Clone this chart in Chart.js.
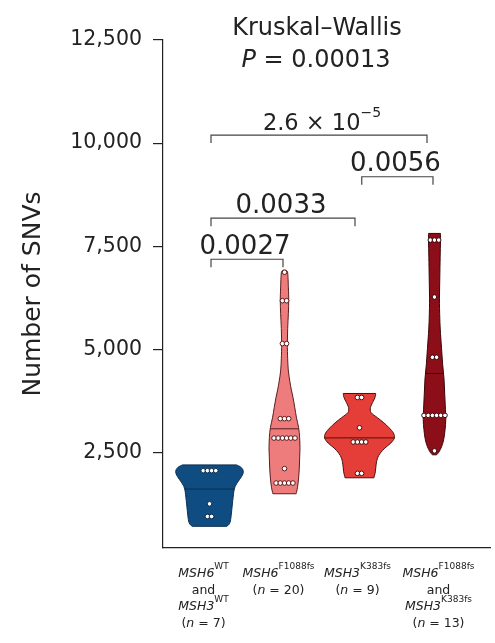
<!DOCTYPE html>
<html>
<head>
<meta charset="utf-8">
<script src="https://cdn.jsdelivr.net/npm/chart.js@4.4.1/dist/chart.umd.min.js"></script>
<style>
  html, body { margin: 0; padding: 0; background: #fff; }
  #wrap { width: 495px; height: 643px; }
</style>
</head>
<body>
<div id="wrap"><canvas id="snvChart" width="495" height="643"></canvas></div>
<script>
// ---- values ----
const groupIds = [0, 1, 2, 3];
const groupCounts = [7, 20, 9, 13];

// SNVs per sample, one array per group
const snvWT = [2060, 2060, 2060, 2060, 1255, 950, 950];
const snvMSH6 = [6870, 6180, 6180, 5140, 5140, 3320, 3320, 3320,
  2850, 2850, 2850, 2850, 2850, 2850, 2110, 1760, 1760, 1760, 1760, 1760];
const snvMSH3 = [3835, 3835, 3100, 2755, 2755, 2755, 2755, 1995, 1995];
const snvDouble = [7650, 7650, 7650, 6270, 4810, 4810,
  3400, 3400, 3400, 3400, 3400, 3400, 2540];

// horizontal line drawn across each violin
const centerLines = [1615, 3075, 2855, 4415];

// violin outlines: SNV levels (top to bottom) and relative half-width
const violinLevels = [
  [2199, 2137, 2039, 1917, 1782, 1635, 1414, 1096, 875, 765, 711],
  [6917, 6855, 6488, 6194, 5875, 5507, 5140, 4772, 4478, 4233, 4037, 3841, 3596, 3341, 3105, 2860, 2615, 2370, 2125, 1880, 1659, 1500],
  [3931, 3833, 3711, 3588, 3466, 3343, 3221, 3098, 2975, 2853, 2730, 2608, 2485, 2363, 2199, 2034, 1887],
  [7811, 7640, 7223, 6733, 6243, 5752, 5385, 5017, 4650, 4282, 3914, 3547, 3301, 3056, 2811, 2639, 2517, 2444]
];
const violinWidths = [
  [.77, .90, .96, .91, .80, .71, .67, .63, .60, .56, .49],
  [.04, .09, .11, .12, .11, .09, .08, .09, .11, .15, .19, .24, .29, .34, .40, .43, .44, .43, .42, .40, .37, .33],
  [.46, .44, .37, .31, .33, .51, .69, .84, .96, .99, .89, .72, .59, .51, .47, .45, .41],
  [.17, .17, .16, .15, .14, .15, .17, .20, .23, .27, .29, .31, .32, .30, .26, .20, .13, .06]
];

const yTicks = [2500, 5000, 7500, 10000, 12500];

// pairwise comparisons
const pairFrom = [0.02, 0.02, 2.03, 0.02];
const pairTo = [0.98, 1.94, 2.98, 2.90];
const pairLevel = [7185, 8180, 9185, 10195];
const pairLabel = [
  [['0.0027', 'n']],
  [['0.0033', 'n']],
  [['0.0056', 'n']],
  [['2.6 \u00d7 10', 'n'], ['\u22125', 's']]
];

// category labels: lines of [text, style] runs (i italic, s superscript)
const categoryLabels = [
  [[['MSH6', 'i'], ['WT', 's']], [['and', 'n']], [['MSH3', 'i'], ['WT', 's']], [['(', 'n'], ['n', 'i'], [' = 7)', 'n']]],
  [[['MSH6', 'i'], ['F1088fs', 's']], [['(', 'n'], ['n', 'i'], [' = 20)', 'n']]],
  [[['MSH3', 'i'], ['K383fs', 's']], [['(', 'n'], ['n', 'i'], [' = 9)', 'n']]],
  [[['MSH6', 'i'], ['F1088fs', 's']], [['and', 'n']], [['MSH3', 'i'], ['K383fs', 's']], [['(', 'n'], ['n', 'i'], [' = 13)', 'n']]]
];

const titleLines = [
  [['Kruskal\u2013Wallis', 'n']],
  [['P', 'i'], [' = 0.00013', 'n']]
];

// ---- styles ----
const FONT = '"DejaVu Sans"';
const INK = '#222';
const violinFill = ['#0f4c81', '#ee7c7c', '#e53d37', '#8b0e18'];
const violinEdge = ['#0a2c4e', '#5a1c1c', '#4d1010', '#3a0508'];
const VIOLIN_HALF = 0.47;   // x units at relative width 1
const DOT_STEP = 0.056;     // x units between tied dots
const LABEL_NUDGE = [-6, -6, -2, 4];

function dodge(values, g) {
  const seen = {};
  values.forEach(v => { seen[v] = (seen[v] || 0) + 1; });
  const used = {};
  return values.map(v => {
    const k = used[v] || 0;
    used[v] = k + 1;
    return { x: g + (k - (seen[v] - 1) / 2) * DOT_STEP, y: v };
  });
}

function smoothTo(ctx, pts) {
  for (let i = 0; i < pts.length - 1; i++) {
    const p0 = pts[i - 1] || pts[i], p1 = pts[i], p2 = pts[i + 1], p3 = pts[i + 2] || p2;
    ctx.bezierCurveTo(
      p1.x + (p2.x - p0.x) / 6, p1.y + (p2.y - p0.y) / 6,
      p2.x - (p3.x - p1.x) / 6, p2.y - (p3.y - p1.y) / 6,
      p2.x, p2.y);
  }
}

function widthAt(levels, widths, v) {
  for (let k = 0; k < levels.length - 1; k++) {
    if (v <= levels[k] && v >= levels[k + 1]) {
      const t = (levels[k] - v) / (levels[k] - levels[k + 1]);
      return widths[k] + t * (widths[k + 1] - widths[k]);
    }
  }
  return widths[widths.length - 1];
}

// draws a line of mixed runs centred on cx
function drawRuns(ctx, runs, cx, base, size, supSize, supRise) {
  const fontFor = s => s === 'i' ? `italic ${size}px ${FONT}` : s === 's' ? `${supSize}px ${FONT}` : `${size}px ${FONT}`;
  let total = 0;
  runs.forEach(([t, s]) => { ctx.font = fontFor(s); total += ctx.measureText(t).width; });
  let x = cx - total / 2;
  ctx.textAlign = 'left';
  ctx.textBaseline = 'alphabetic';
  runs.forEach(([t, s]) => {
    ctx.font = fontFor(s);
    ctx.fillText(t, x, s === 's' ? base - supRise : base);
    x += ctx.measureText(t).width;
  });
}

const violinPlugin = {
  id: 'violins',
  beforeDatasetsDraw(chart) {
    const { ctx, scales: { x, y } } = chart;
    violinLevels.forEach((levels, g) => {
      const widths = violinWidths[g];
      const cx = x.getPixelForValue(g);
      const half = x.getPixelForValue(g + VIOLIN_HALF) - cx;
      const right = levels.map((v, k) => ({ x: cx + widths[k] * half, y: y.getPixelForValue(v) }));
      const left = right.map(p => ({ x: 2 * cx - p.x, y: p.y })).reverse();
      ctx.save();
      ctx.beginPath();
      ctx.moveTo(left[left.length - 1].x, left[left.length - 1].y);
      ctx.lineTo(right[0].x, right[0].y);
      smoothTo(ctx, right);
      ctx.lineTo(left[0].x, left[0].y);
      smoothTo(ctx, left);
      ctx.closePath();
      ctx.fillStyle = violinFill[g];
      ctx.fill();
      ctx.lineWidth = 1;
      ctx.strokeStyle = violinEdge[g];
      ctx.stroke();
      const yl = y.getPixelForValue(centerLines[g]);
      const w = widthAt(levels, widths, centerLines[g]) * half;
      ctx.beginPath();
      ctx.moveTo(cx - w, yl);
      ctx.lineTo(cx + w, yl);
      ctx.stroke();
      ctx.restore();
    });
  }
};

const annotationPlugin = {
  id: 'annotations',
  afterDraw(chart) {
    const { ctx, scales: { x, y } } = chart;
    ctx.save();
    ctx.fillStyle = INK;
    // title
    drawRuns(ctx, titleLines[0], 317, 35, 24, 14, 10);
    drawRuns(ctx, titleLines[1], 316, 67, 24, 14, 10);
    // brackets
    ctx.strokeStyle = '#444';
    ctx.lineWidth = 1.2;
    pairLevel.forEach((lv, i) => {
      const x1 = x.getPixelForValue(pairFrom[i]);
      const x2 = x.getPixelForValue(pairTo[i]);
      const yy = y.getPixelForValue(lv);
      ctx.beginPath();
      ctx.moveTo(x1, yy + 8);
      ctx.lineTo(x1, yy);
      ctx.lineTo(x2, yy);
      ctx.lineTo(x2, yy + 8);
      ctx.stroke();
      const big = pairLabel[i].length === 1;
      drawRuns(ctx, pairLabel[i], (x1 + x2) / 2 + (big ? -2 : 3), yy - 5.5, big ? 26 : 22.5, 14, 13);
    });
    // category labels
    categoryLabels.forEach((lines, g) => {
      const cx = x.getPixelForValue(groupIds[g]) + LABEL_NUDGE[g];
      lines.forEach((runs, k) => {
        drawRuns(ctx, runs, cx, 577 + k * 16.5, 12.5, 9, 8.5);
      });
    });
    ctx.restore();
  }
};

const groupValues = [snvWT, snvMSH6, snvMSH3, snvDouble];

const chart = new Chart(document.getElementById('snvChart'), {
  type: 'scatter',
  data: {
    datasets: groupValues.map((vals, g) => ({
      label: 'n = ' + groupCounts[g],
      data: dodge(vals, groupIds[g]),
      pointRadius: 2.3,
      pointBorderWidth: 1,
      pointBackgroundColor: '#ffffff',
      pointBorderColor: violinEdge[g],
      showLine: false
    }))
  },
  plugins: [violinPlugin, annotationPlugin],
  options: {
    responsive: false,
    animation: false,
    layout: { padding: { top: 40, right: 5, bottom: 0, left: 0 } },
    plugins: { legend: { display: false }, tooltip: { enabled: false } },
    scales: {
      x: {
        type: 'linear',
        min: -0.62,
        max: 3.74,
        afterFit: s => { s.height = 95; },
        ticks: { display: false },
        grid: { display: true, drawOnChartArea: false, drawTicks: false },
        border: { display: true, color: INK, width: 1.2 }
      },
      y: {
        type: 'linear',
        min: 185,
        max: 12500,
        afterFit: s => { s.width = 163; },
        afterBuildTicks: s => { s.ticks = yTicks.map(v => ({ value: v })); },
        ticks: {
          color: INK,
          padding: 11,
          font: { family: 'DejaVu Sans', size: 20.5 },
          callback: v => Number(v).toLocaleString('en-US')
        },
        grid: { drawOnChartArea: false, drawTicks: true, tickLength: 10, color: INK, lineWidth: 1.2 },
        border: { display: true, color: INK, width: 1.2 },
        title: {
          display: true,
          text: 'Number of SNVs',
          color: INK,
          font: { family: 'DejaVu Sans', size: 25 },
          padding: { top: 18, bottom: 0 }
        }
      }
    }
  }
});
</script>
</body>
</html>
